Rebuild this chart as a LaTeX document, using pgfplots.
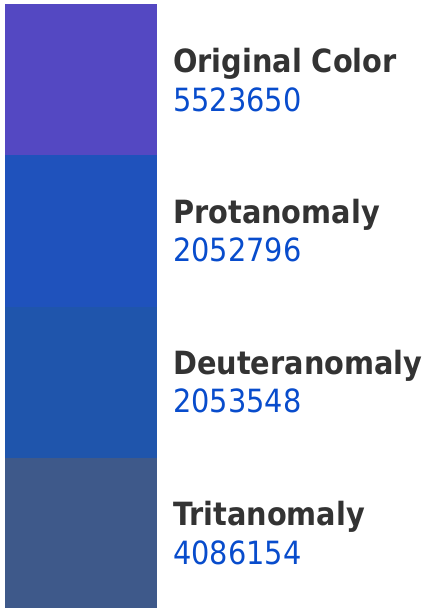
\documentclass[border=0pt]{standalone}
\usepackage{pgfplots}
\pgfplotsset{compat=1.18}
\usepackage{fontspec}
\setmainfont{DejaVu Sans Condensed}
\definecolor{cOrig}{RGB}{84,72,194}
\definecolor{cProt}{RGB}{31,82,188}
\definecolor{cDeut}{RGB}{31,85,172}
\definecolor{cTrit}{RGB}{62,89,138}
\definecolor{txtdark}{RGB}{51,51,51}
\definecolor{txtblue}{RGB}{8,76,204}
\begin{document}
\begin{tikzpicture}
\begin{axis}[
  width=425pt, height=608pt, scale only axis,
  xmin=0, xmax=425, ymin=0, ymax=608, y dir=reverse,
  hide axis, clip=false,
]
\addplot[fill=cOrig, draw=none] coordinates {(5,4) (157,4) (157,155.5) (5,155.5)};
\addplot[fill=cProt, draw=none] coordinates {(5,155) (157,155) (157,307.5) (5,307.5)};
\addplot[fill=cDeut, draw=none] coordinates {(5,307) (157,307) (157,458.5) (5,458.5)};
\addplot[fill=cTrit, draw=none] coordinates {(5,458) (157,458) (157,608) (5,608)};
\path (axis cs:0,0) (axis cs:425,608);
\begin{scope}[font=\fontsize{32}{38}\selectfont]
\node[anchor=base west, inner sep=0pt, text=txtdark] at (axis cs:173,72.8) {\bfseries Original Color};
\node[anchor=base west, inner sep=0pt, text=txtblue] at (axis cs:173,111) {5523650};
\node[anchor=base west, inner sep=0pt, text=txtdark] at (axis cs:173,223.5) {\bfseries Protanomaly};
\node[anchor=base west, inner sep=0pt, text=txtblue] at (axis cs:173,261.7) {2052796};
\node[anchor=base west, inner sep=0pt, text=txtdark] at (axis cs:173,374.7) {\bfseries Deuteranomaly};
\node[anchor=base west, inner sep=0pt, text=txtblue] at (axis cs:173,412.9) {2053548};
\node[anchor=base west, inner sep=0pt, text=txtdark] at (axis cs:173,525.9) {\bfseries Tritanomaly};
\node[anchor=base west, inner sep=0pt, text=txtblue] at (axis cs:173,564.1) {4086154};
\end{scope}
\end{axis}
\end{tikzpicture}
\end{document}
